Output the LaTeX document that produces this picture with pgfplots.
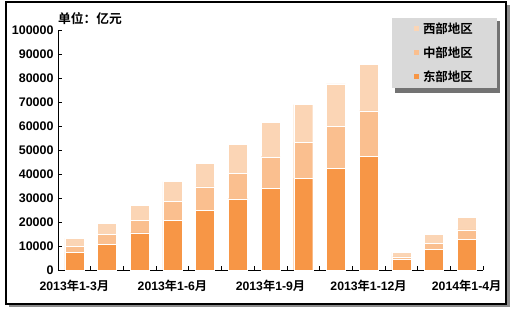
\documentclass[border=0pt]{standalone}
\usepackage{fontspec}
\setmainfont{Liberation Sans}
\newfontfamily\cjk{Noto Sans CJK SC}[BoldFont={Noto Sans CJK SC Bold}]
\usepackage{pgfplots}
\pgfplotsset{compat=1.18}
\definecolor{east}{RGB}{247,150,70}
\definecolor{central}{RGB}{250,191,143}
\definecolor{west}{RGB}{251,213,181}
\definecolor{leggray}{RGB}{217,217,217}
\begin{document}
\begin{tikzpicture}[x=1bp,y=1bp]
\useasboundingbox (0,0) rectangle (514,308);
\fill[black!45] (9,1) rectangle (510,303);
\fill[white] (6,4) rectangle (506,306);
\draw[line width=1.2bp] (6,4) rectangle (506,306);
\begin{axis}[
  at={(58bp,38bp)}, anchor=south west,
  scale only axis, width=425bp, height=240bp,
  ybar stacked, bar width=19bp,
  xmin=0.5, xmax=13.5, ymin=0, ymax=100000,
  axis lines*=left, axis line style={-, line width=0.7bp},
  tick align=inside, major tick length=4bp,
  tick style={black, line width=0.6bp},
  ytick={0,10000,...,100000},
  scaled y ticks=false,
  yticklabel={\pgfmathprintnumber[fixed,precision=0,1000 sep={},assume math mode=true]{\tick}},
  yticklabel style={font=\bfseries\fontsize{12.5}{13}\selectfont, xshift=-1bp},
  xtick={0.5,1.5,...,13.5}, xticklabels={},
  extra x ticks={1,4,7,10,13},
  extra x tick labels={2013{\cjk 年}1-3{\cjk 月},2013{\cjk 年}1-6{\cjk 月},2013{\cjk 年}1-9{\cjk 月},2013{\cjk 年}1-12{\cjk 月},2014{\cjk 年}1-4{\cjk 月}},
  extra x tick style={major tick length=0pt, tick style={draw=none}},
  xticklabel style={font=\bfseries\fontsize{12.3}{13}\selectfont, yshift=-7bp},
  reverse legend,
  legend cell align=left,
  legend image code/.code={\path (0bp,0bp) (7bp,0bp); \fill[#1,draw=none] (0bp,-2bp) rectangle (5bp,3bp);},
  legend style={at={(1.033,1.05)}, anchor=north east, draw=none, fill=leggray,
    inner xsep=22bp, inner ysep=3bp, row sep=7.5bp,
    font=\cjk\bfseries\fontsize{12.5}{13}\selectfont},
  clip=false,
]
\fill[black!55] (axis description cs:0.7929,0.7375) rectangle (axis description cs:1.04,1.0375);
\addplot[fill=east, draw=white, line width=0.4bp] coordinates {(1,7500) (2,10800) (3,15500) (4,20700) (5,25000) (6,29700) (7,34100) (8,38300) (9,42500) (10,47400) (11,4300) (12,8700) (13,12900)};
\addlegendentry{东部地区}
\addplot[fill=central, draw=white, line width=0.4bp] coordinates {(1,2500) (2,4000) (3,5100) (4,7800) (5,9600) (6,10500) (7,13100) (8,14900) (9,17300) (10,18900) (11,1200) (12,2400) (13,3800)};
\addlegendentry{中部地区}
\addplot[fill=west, draw=white, line width=0.4bp] coordinates {(1,3200) (2,4600) (3,6200) (4,8300) (5,9800) (6,12100) (7,14200) (8,15700) (9,17700) (10,19500) (11,2000) (12,3800) (13,5200)};
\addlegendentry{西部地区}
\node[anchor=west, font=\cjk\bfseries\fontsize{12.8}{13}\selectfont, inner sep=0pt] at (axis description cs:0,1.046) {单位：亿元};
\end{axis}
\end{tikzpicture}
\end{document}
